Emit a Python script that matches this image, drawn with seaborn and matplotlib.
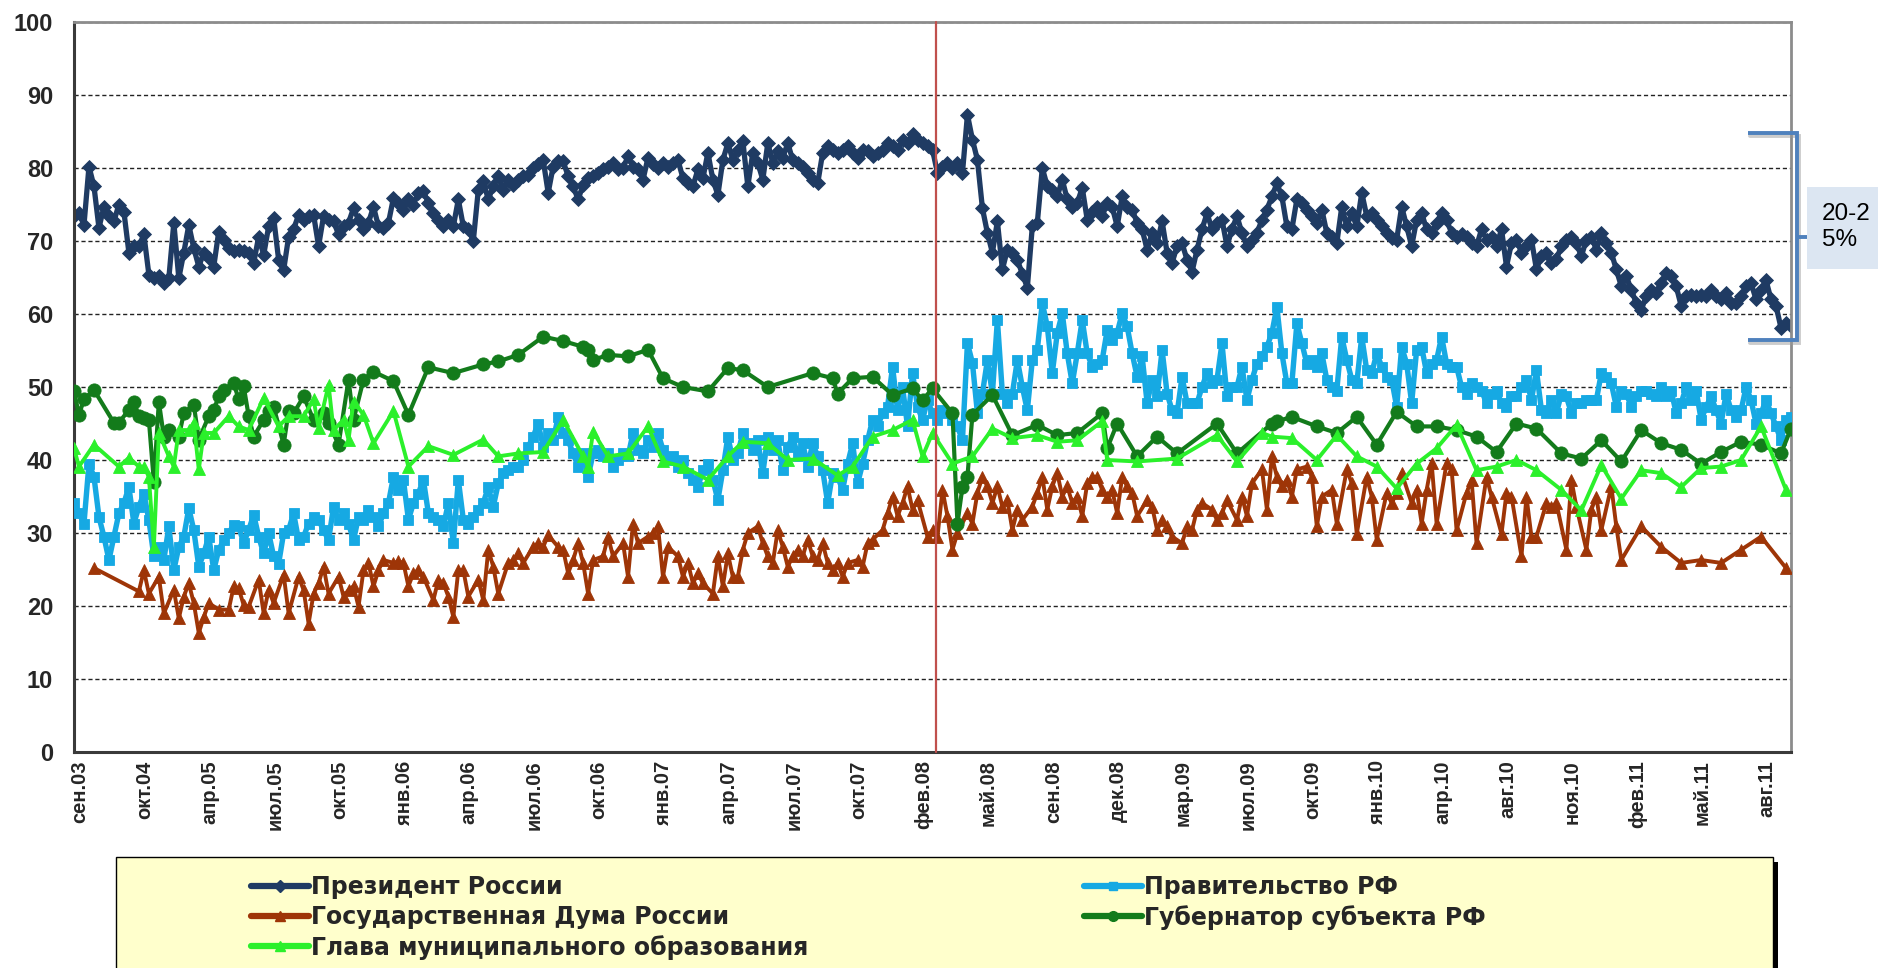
import numpy as np
import matplotlib
matplotlib.use("Agg")
import matplotlib.pyplot as plt
import matplotlib.transforms as mtransforms
from matplotlib.lines import Line2D
from matplotlib.patches import Rectangle
from matplotlib import font_manager as fm
import seaborn as sns

# ---------------- data (weekly survey categories) ----------------
tick_labels = ['сен.03', 'окт.04', 'апр.05', 'июл.05', 'окт.05', 'янв.06', 'апр.06',
               'июл.06', 'окт.06', 'янв.07', 'апр.07', 'июл.07', 'окт.07', 'фев.08',
               'май.08', 'сен.08', 'дек.08', 'мар.09', 'июл.09', 'окт.09', 'янв.10',
               'апр.10', 'авг.10', 'ноя.10', 'фев.11', 'май.11', 'авг.11']
label_every = 13          # one label per 13 categories
election_week = 172.8     # position of the vertical red marker (category units)

president = [
    73.4, 73.8, 72.2, 80.2, 77.5, 71.8, 74.7, 73.4, 72.7, 75, 74, 68.4, 69.3, 69.3, 70.9,
    65.4, 64.9, 65.2, 64.2, 64.9, 72.5, 64.9, 68.4, 72.2, 69, 66.5, 68.4, 67.7, 66.5, 71.3,
    70.2, 69, 68.6, 68.8, 68.6, 68.4, 67, 70.6, 68.1, 72, 73.2, 67.4, 66, 70.6, 71.6, 73.6,
    72.9, 73.4, 73.6, 69.3, 73.4, 72.9, 72.7, 70.9, 72, 72.5, 74.5, 72.9, 71.6, 72.5, 74.7,
    72, 71.8, 72.5, 75.9, 75.2, 74.3, 75.7, 75, 76.6, 76.8, 75.2, 73.8, 72.9, 72, 72.9, 72,
    75.7, 72, 71.6, 70, 77, 78.2, 75.7, 77.5, 78.9, 77, 78.4,
    77.7, 78.4, 78.9, 79.1, 80, 80.5, 81.1, 76.6, 80.2, 80.9, 80.9, 78.9, 77.5, 75.7, 77.7,
    78.6, 78.9, 79.3, 79.8, 80.2, 80.7, 79.8, 80, 81.6, 80.2, 79.8, 78.4, 81.4, 80.5, 80,
    80.7, 80.2, 80.7, 81.1, 78.6, 77.9, 77.5, 79.8, 78.6, 82.1, 78.4, 76.3, 81.1, 83.4, 81.1,
    82.5, 83.7, 77.5, 82.1, 80.7, 78.4, 83.4, 80.7, 82.3, 81.4, 83.4, 81.1, 80.7, 80.2, 79.3,
    78.4, 77.9, 82.1, 83, 82.5, 82.1, 82.5, 83, 82.1, 81.4, 82.5, 82.3, 81.6, 82.1, 82.5,
    83.4, 83, 82.5, 83.9, 83.4, 84.6, 83.9, 83.4, 83, 82.5,
    79.3, 80.2, 80.7, 80, 80.7, 79.3, 87.3, 83.9, 81.1, 74.5, 71.1, 68.4, 72.7, 66.1, 68.8,
    68.4, 67.4, 65.5, 63.6, 72, 72.5, 80, 77.5, 77, 76.1, 78.4, 75.7, 74.7, 75.2, 77.3, 72.9,
    74, 74.7, 73.4, 75.2, 74.7, 72, 76.1, 74.7, 74.3, 72.5, 71.6, 68.8, 71.1, 69.7, 72.7,
    68.4, 67, 69.3, 69.7, 67.4, 65.8, 68.8, 71.6, 73.8, 71.6, 72.5, 72.9, 69.3, 71.6, 73.4,
    71.1, 69.3, 70.2, 71.1, 72.9, 74.3, 76.1, 77.9, 76.1, 72, 71.6, 75.7, 75.2, 74.3, 73.4,
    72.5, 74.3, 71.1, 70.6, 69.7, 74.7, 72, 73.8, 72, 76.6, 73.4, 73.8,
    72.9, 72, 71.1, 70.4, 70.2, 74.7, 72, 69.3, 72.9, 73.8, 71.6, 71.1, 72.5, 73.8, 72.9,
    71.1, 70.6, 70.9, 70.6, 69.7, 69.3, 71.6, 70.2, 70.6, 69.3, 71.6, 66.5, 69.7, 70.2, 68.4,
    69.3, 70.2, 66.1, 67.9, 68.4, 67, 67.5, 69.3, 70.2, 70.6, 69.7, 67.9, 70.2, 70.6, 68.8,
    71.1, 69.7, 68.4, 66.1, 63.8, 65.2, 63.3, 61.5, 60.6, 62.4, 63.3, 62.9, 64.2, 65.6, 65.2,
    63.8, 61.1, 62.4, 62.6, 62.4, 62.6, 62.4, 63.3, 62.4, 62, 62.9, 61.5, 61.5, 62.4, 63.8,
    64.2, 62, 63.3, 64.6, 62, 61.1, 58.1, 58.8, 58.4]

government = [
    34.1, 32.7, 31.3, 39.5, 37.7, 32.2, 29.5, 26.3, 29.5, 32.7, 34.1, 36.3, 31.3, 33.6, 35.4,
    31.8, 26.8, 28.1, 26.3, 30.9, 24.9, 28.1, 29.5, 33.4, 30.4, 25.4, 27.2, 29.5, 24.9, 27.7,
    29, 30, 31.1, 30.9, 28.6, 30.4, 32.5, 29.5, 27.2, 30, 26.8, 25.8, 30, 30.4, 32.7, 29,
    29.5, 31.3, 32.2, 31.8, 30.4, 29, 33.6, 31.8, 32.7, 31.3, 29, 32.2, 31.8, 33.2, 32.2,
    30.9, 32.7, 34.1, 37.7, 35.9, 37.3, 31.8, 34.1, 35.4, 37.3, 32.7, 32.2, 31.8, 30.9, 34.1,
    28.6, 37.3, 31.8, 31.3, 32.2, 33.2, 34.1, 36.3, 33.6, 36.8, 38.2, 38.6,
    39.1, 39.1, 40, 41.8, 43.2, 45, 41.8, 43.7, 42.7, 45.9, 43.7, 42.7, 40.9, 39.1, 40.9,
    37.7, 40.9, 41.4, 40.5, 40.9, 39.1, 40, 40.9, 40.5, 43.7, 41.4, 40.9, 42.7, 41.8, 43.7,
    41.4, 40, 40.5, 39.1, 40, 38.2, 37.3, 36.3, 38.6, 39.5, 37.3, 34.5, 38.6, 43.2, 40,
    40.9, 43.7, 42.3, 41.4, 42.7, 38.2, 43.2, 41.4, 42.7, 38.6, 41.8, 43.2, 40.5, 42.3, 39.1,
    42.3, 40.5, 38.6, 34.1, 38.2, 37.7, 35.9, 39.5, 42.3, 36.8, 39.5, 42.7, 45.5, 44.6, 46.4,
    47.3, 52.8, 46.8, 50, 44.6, 51.9, 47.3, 45.5, 48.2, 46.4,
    45.5, 46.8, 46.4, 45.5, 44.6, 42.7, 56, 53.3, 46.4, 49.1, 53.7, 49.1, 59.2, 49.1, 47.8,
    49.1, 53.7, 50, 46.8, 53.7, 55.1, 61.5, 58.3, 51.9, 57.4, 60.1, 54.6, 50.5, 54.6, 59.2,
    54.6, 52.8, 53.2, 53.7, 57.8, 56.4, 57.4, 60.1, 58.3, 54.6, 51.4, 54.2, 47.8, 51, 48.7,
    55.1, 49.1, 46.8, 46.4, 51.4, 47.8, 47.8, 47.8, 50, 51.9, 50.5, 51, 56, 48.7, 50, 50,
    52.8, 48.2, 51, 53.2, 54.2, 55.5, 57.4, 61, 54.6, 50.5, 50.5, 58.7, 56, 53.2, 53.7, 52.8,
    54.6, 51, 50, 49.5, 56.9, 53.7, 51, 50.5, 56.9, 52.3, 51.9,
    54.6, 52.8, 51.4, 51, 47.3, 55.5, 53.2, 47.8, 55.1, 55.5, 51.9, 53.2, 53.7, 56.9, 53.2,
    52.8, 52.8, 50, 49.1, 50.5, 50, 49.5, 47.8, 49.1, 49.5, 47.8, 47.3, 48.7, 48.7, 50, 51,
    48.2, 52.3, 46.8, 46.4, 48.2, 46.4, 49.1, 48.7, 46.4, 47.8, 47.8, 48.2, 48.2, 48.2, 51.9,
    51.4, 50.5, 47.3, 49.5, 49.1, 47.3, 48.7, 49.5, 49.5, 49.1, 48.7, 50, 48.7, 49.5, 46.4,
    47.8, 50, 48.2, 49.5, 45.5, 47.3, 48.7, 46.8, 45, 49.1, 46.8, 45.9, 46.8, 50, 48.2, 45,
    46.4, 48.2, 46.4, 44.6, 42.7, 45.5, 45.9]

duma_weeks = [
    4, 13, 14, 15, 17, 18, 20, 21, 22, 23, 24, 25, 26, 27, 29, 31, 32, 33, 34, 35, 37, 38, 39,
    40, 42, 43, 45, 46, 47, 48, 49, 50, 51, 53, 54, 55, 56, 57, 58, 59, 60, 61, 62, 64, 65, 66,
    67, 68, 69, 70, 72, 73, 74, 75, 76, 77, 78, 79, 81, 82, 83, 84, 85, 87, 88, 89, 90, 92, 93,
    94, 95, 97, 98, 99, 100, 101, 102, 103, 104, 106, 107, 108, 110, 111, 112, 113, 115, 116,
    117, 118, 119, 121, 122, 123, 124, 125, 126, 128, 129, 130, 131, 132, 133, 134, 135, 137,
    138, 139, 140, 141, 142, 143, 144, 145, 146, 147, 148, 149, 150, 151, 152, 153, 154, 155,
    157, 158, 159, 160, 162, 163, 164, 165, 166, 167, 168, 169, 171, 172, 173, 174, 175, 176,
    177, 179, 180, 181, 182, 183, 184, 185, 186, 187, 188, 189, 190, 192, 193, 194, 195, 196,
    197, 198, 199, 200, 201, 202, 203, 204, 205, 206, 207, 208, 209, 210, 211, 212, 213, 215,
    216, 217, 218, 219, 220, 222, 223, 224, 225, 226, 228, 229, 230, 231, 233, 234, 235, 236,
    238, 239, 240, 241, 242, 243, 244, 245, 247, 248, 249, 250, 252, 253, 255, 256, 257, 259,
    260, 261, 263, 264, 265, 266, 268, 269, 270, 271, 272, 273, 275, 276, 277, 279, 280, 281,
    283, 284, 286, 287, 288, 290, 291, 292, 293, 295, 296, 297, 299, 300, 301, 303, 304, 305,
    306, 308, 309, 310, 314, 318, 322, 326, 330, 334, 338, 343]
duma = [
    25.2, 22, 24.9, 21.7, 24, 19, 22.2, 18.3, 21.3, 23.1, 20.4, 16.3, 18.5, 20.4, 19.5, 19.5,
    22.7, 22.4, 20.1, 19.9, 23.6, 19, 22.2, 20.4, 24.3, 19, 24, 22.2, 17.6, 21.7, 23.1, 25.4,
    21.7, 24, 21.3, 22.2, 22.7, 19.9, 24.9, 25.9, 22.7, 24.9, 26.3, 25.9, 26.1, 25.9, 22.7,
    24.5, 24.9, 24, 20.8, 23.6, 23.1, 21.3, 18.5, 24.9, 24.9, 21.3, 23.6, 20.8, 27.7, 25.4,
    21.7, 25.9, 26.3, 27.2, 25.9, 28.1, 28.6, 28.1, 29.7, 28.1, 27.7, 24.5, 26.3, 28.6, 25.9,
    21.7, 26.3, 26.8, 29.5, 26.8, 28.6, 24, 31.3, 28.6, 29.5, 30, 30.9, 24, 28.1, 26.8, 24,
    25.9, 23.1, 24.5, 23.1, 21.7, 26.8, 22.7, 27.2, 24, 24, 27.7, 30, 30.9, 28.6, 26.8, 25.9,
    30.4, 28.1, 25.4, 26.8, 27.7, 26.8, 29.1, 26.8, 26.3, 28.6, 25.9, 24.9, 25.9, 24, 25.9,
    26.3, 25.4, 28.6, 29.1, 30.4, 32.7, 35, 32.3, 34.1, 36.4, 33.2, 34.5, 29.5, 30.4, 29.5,
    35.9, 32.3, 27.7, 30, 32.7, 31.3, 35.5, 37.7, 36.4, 34.1, 36.4, 33.6, 34.5, 30.4, 33.2,
    31.8, 33.6, 35.5, 37.7, 33.2, 36.4, 38.2, 35, 36.4, 34.1, 35, 32.3, 36.8, 37.7, 37.7, 35.9,
    35, 35.9, 32.7, 37.7, 36.4, 35.5, 32.3, 34.5, 33.6, 30.4, 31.8, 30.9, 29.5, 28.6, 30.9,
    30.4, 33.2, 34.1, 33.2, 31.8, 32.7, 34.5, 31.8, 35, 32.3, 36.8, 38.7, 33.2, 40.5, 37.7,
    36.4, 37.3, 35, 38.7, 39.1, 37.7, 30.9, 35, 35.9, 31.3, 38.7, 36.8, 29.9, 37.7, 35, 29.1,
    35.5, 34.1, 35.5, 38.2, 34.1, 35.9, 31.3, 35.9, 39.6, 31.3, 39.6, 38.7, 30.4, 35.5, 37.3,
    28.6, 37.7, 35, 29.9, 35.5, 35, 26.8, 35, 29.5, 29.5, 34.1, 33.6, 34.1, 27.7, 37.3, 33.6,
    27.7, 33.2, 35, 30.4, 36.4, 30.9, 26.3, 30.9, 28.1, 25.9, 26.3, 25.9, 27.7, 29.5, 25.2]

governor_weeks = [
    0, 1, 2, 4, 8, 9, 11, 12, 13, 14, 15, 16, 17, 18, 19, 21, 22, 24, 25, 27, 28, 29, 30, 32,
    33, 34, 35, 36, 38, 39, 40, 42, 43, 44, 46, 48, 50, 51, 53, 55, 56, 58, 60, 64, 67, 71, 76,
    82, 85, 89, 94, 98, 102, 103, 104, 107, 111, 115, 118, 122, 127, 131, 134, 139, 148, 152,
    153, 156, 160, 164, 168, 170, 172, 176, 177, 178, 179, 180, 184, 188, 193, 197, 201, 206,
    207, 209, 213, 217, 221, 229, 233, 240, 241, 244, 249, 253, 257, 261, 265, 269, 273, 277,
    281, 285, 289, 293, 298, 302, 306, 310, 314, 318, 322, 326, 330, 334, 338, 342, 344]
governor = [
    49.4, 46.2, 48.3, 49.6, 45.1, 45.1, 46.9, 48, 46, 45.7, 45.5, 37, 48, 43.2, 44.1, 43.2,
    46.4, 47.6, 42.8, 46, 46.9, 48.7, 49.6, 50.5, 48.3, 50.1, 46, 43.2, 45.5, 46.7, 47.3, 42.1,
    46.7, 46.4, 48.7, 45.5, 46.4, 45.1, 42.1, 51, 45.5, 51, 52.1, 50.8, 46.2, 52.7, 51.9, 53.1,
    53.5, 54.4, 56.9, 56.3, 55.5, 55.1, 53.7, 54.4, 54.2, 55.1, 51.2, 50, 49.4, 52.6, 52.3, 50,
    51.9, 51.2, 49.1, 51.2, 51.4, 48.9, 49.8, 48.2, 49.8, 46.4, 31.3, 36.3, 37.7, 46.2, 48.9,
    43.4, 44.8, 43.4, 43.7, 46.4, 41.6, 45, 40.5, 43.2, 40.9, 45, 40.9, 45, 45.3, 45.9, 44.6,
    43.7, 45.9, 42.1, 46.6, 44.6, 44.6, 44.1, 43.2, 41.1, 45, 44.3, 40.9, 40.2, 42.7, 39.8,
    44.1, 42.3, 41.4, 39.5, 41.1, 42.5, 42.1, 40.9, 44.3]

head_weeks = [
    0, 1, 4, 9, 11, 13, 14, 15, 16, 17, 19, 20, 21, 23, 24, 25, 26, 28, 31, 33, 35, 38, 41, 43,
    46, 48, 49, 51, 52, 54, 55, 56, 58, 60, 64, 67, 71, 76, 82, 85, 89, 94, 98, 102, 103, 104,
    107, 111, 115, 118, 122, 127, 131, 134, 139, 143, 148, 153, 156, 160, 164, 168, 170, 172,
    176, 180, 184, 188, 193, 197, 201, 206, 207, 213, 221, 229, 233, 238, 240, 244, 249, 253,
    257, 261, 265, 269, 273, 277, 281, 285, 289, 293, 298, 302, 306, 310, 314, 318, 322, 326,
    330, 334, 338, 343]
head = [
    41.6, 39.1, 42.1, 39.1, 40.3, 39.1, 39.1, 37.7, 28.1, 43.7, 40.5, 39.1, 44.1, 44.1, 45.1,
    38.7, 43.7, 43.7, 46, 44.6, 44.1, 48.5, 44.6, 46, 46, 48.3, 44.4, 50.3, 44.1, 45.5, 42.8,
    48, 46.2, 42.3, 46.7, 39.1, 41.9, 40.7, 42.8, 40.5, 40.9, 41.1, 45.5, 40.5, 39.1, 43.9,
    40.5, 40.9, 44.6, 39.8, 39.1, 37.3, 40.5, 42.5, 42.3, 40, 40.2, 37.9, 39.1, 43.2, 44.1,
    45.5, 40.5, 43.7, 39.5, 40.5, 44.3, 43, 43.4, 42.5, 42.7, 45.3, 40, 39.8, 40.2, 43.4, 39.8,
    43.7, 43.2, 43, 40, 43.4, 40.5, 39.1, 36.1, 39.5, 41.6, 44.8, 38.6, 39.1, 40, 38.6, 35.9,
    33.1, 39.3, 34.7, 38.6, 38.2, 36.3, 38.9, 39.1, 40, 44.6, 35.9]

names_ru = ['Президент России', 'Правительство РФ', 'Государственная Дума России',
            'Губернатор субъекта РФ', 'Глава муниципального образования']
annotation_text = '20-2\n5%'

# ---------------- style ----------------
sns.set_style("white")
installed = {f.name for f in fm.fontManager.ttflist}
NARROW = 'Liberation Sans Narrow' if 'Liberation Sans Narrow' in installed else 'Liberation Sans'
plt.rcParams['font.family'] = ['Liberation Sans', 'DejaVu Sans']

C_PRES, C_GOV, C_DUMA, C_GOVR, C_HEAD = '#1F3B63', '#16A9E3', '#9E3507', '#137B1B', '#2BF02B'

W, H = 1878, 968
fig = plt.figure(figsize=(W / 100, H / 100), dpi=100)
fig.patch.set_facecolor('white')


def fx(px):
    return px / W


def fy(py):
    return 1 - py / H


L, R, T, B = 74, 1791, 22, 752
ax = fig.add_axes([fx(L), fy(B), (R - L) / W, (B - T) / H])
ax.set_facecolor('white')

weeks_p = np.arange(len(president))
weeks_g = np.arange(len(government))

series = [
    (weeks_p, president, C_PRES, 'D', 7.5, 3.8, 2),
    (weeks_g, government, C_GOV, 's', 6.5, 3.9, 3),
    (np.array(duma_weeks), duma, C_DUMA, '^', 8.5, 2.8, 4),
    (np.array(governor_weeks), governor, C_GOVR, 'o', 9.5, 3.0, 5),
    (np.array(head_weeks), head, C_HEAD, '^', 8.5, 2.8, 6),
]
for x, y, color, marker, ms, lw, z in series:
    sns.lineplot(x=x, y=y, ax=ax, color=color, marker=marker, markersize=ms,
                 linewidth=lw, markeredgecolor=color, markeredgewidth=0.6,
                 zorder=z, legend=False, sort=False, errorbar=None)

ax.set_xlim(0, len(president) - 1)
ax.set_ylim(0, 100)
ax.set_yticks(range(0, 101, 10))
ax.yaxis.grid(True, linestyle=(0, (3, 2)), color='#222222', linewidth=1.0)
ax.xaxis.grid(False)
ax.set_axisbelow(True)
ax.set_xlabel('')
ax.set_ylabel('')

for side in ['left', 'bottom']:
    ax.spines[side].set_color('#3a3a3a')
    ax.spines[side].set_linewidth(2.2)
for side in ['top', 'right']:
    ax.spines[side].set_color('#8c8c8c')
    ax.spines[side].set_linewidth(2.0)

ax.tick_params(axis='y', length=6, width=1.5, color='#3a3a3a', pad=9, labelsize=17)
for lbl in ax.get_yticklabels():
    lbl.set_fontweight('bold')
    lbl.set_fontfamily([NARROW, 'DejaVu Sans'])

tick_pos = [label_every * k for k in range(len(tick_labels))]
ax.set_xticks(tick_pos)
ax.set_xticklabels(tick_labels, rotation=90, fontsize=14.5, fontweight='bold',
                   va='top', ha='center')
ax.tick_params(axis='x', length=0, pad=6)
offset = mtransforms.ScaledTranslation(6 / 100, 0, fig.dpi_scale_trans)
for lbl in ax.get_xticklabels():
    lbl.set_transform(lbl.get_transform() + offset)

# election marker
ax.axvline(election_week, color='#C0504D', linewidth=1.6, zorder=7, clip_on=False)

# ---------------- legend box ----------------
fig.add_artist(Rectangle((fx(121), fy(H + 30)), fx(1778) - fx(121), fy(862) - fy(H + 30),
                         transform=fig.transFigure, facecolor='black', edgecolor='none', zorder=1))
fig.add_artist(Rectangle((fx(116), fy(H + 30)), fx(1773) - fx(116), fy(857) - fy(H + 30),
                         transform=fig.transFigure, facecolor='#FFFFCC', edgecolor='black',
                         linewidth=1.0, zorder=1.1))

handles = [
    Line2D([], [], color=C_PRES, lw=4.5, marker='D', ms=6.5, mec=C_PRES),
    Line2D([], [], color=C_GOV, lw=4.5, marker='s', ms=5.5, mec=C_GOV),
    Line2D([], [], color=C_DUMA, lw=4.5, marker='^', ms=7.5, mec=C_DUMA),
    Line2D([], [], color=C_GOVR, lw=4.5, marker='o', ms=7, mec=C_GOVR),
    Line2D([], [], color=C_HEAD, lw=4.5, marker='^', ms=7.5, mec=C_HEAD),
]
leg_kw = dict(loc='upper left', frameon=False, borderpad=0, borderaxespad=0,
              handlelength=2.45, handletextpad=0.1, labelspacing=0.25,
              prop=dict(family=['DejaVu Sans'], weight='bold', size=17))
leg1 = fig.legend([handles[0], handles[2], handles[4]], [names_ru[0], names_ru[2], names_ru[4]],
                  bbox_to_anchor=(fx(251), fy(875)), **leg_kw)
leg2 = fig.legend([handles[1], handles[3]], [names_ru[1], names_ru[3]],
                  bbox_to_anchor=(fx(1084), fy(875)), **leg_kw)
leg1.set_zorder(5)
leg2.set_zorder(5)

# ---------------- bracket annotation ----------------
bx = [1748, 1797, 1797, 1748]
by = [133, 133, 340, 340]
fig.add_artist(Line2D([fx(v + 2) for v in bx], [fy(v + 3) for v in by], color='#9a9a9a',
                      alpha=0.5, lw=2.8, solid_joinstyle='miter', zorder=3))
fig.add_artist(Line2D([fx(v) for v in bx], [fy(v) for v in by], color='#4F81BD',
                      lw=2.8, solid_joinstyle='miter', solid_capstyle='butt', zorder=4))
fig.add_artist(Line2D([fx(1797), fx(1807)], [fy(237), fy(237)], color='#4F81BD',
                      lw=2.8, solid_capstyle='butt', zorder=4))
fig.add_artist(Rectangle((fx(1807), fy(269)), fx(1900) - fx(1807), fy(187) - fy(269),
                         transform=fig.transFigure, facecolor='#DCE6F2', edgecolor='none',
                         zorder=3))
fig.text(fx(1822), fy(227), annotation_text, fontsize=17.5, ha='left', va='center',
         linespacing=1.25, family=['Liberation Sans', 'DejaVu Sans'], color='black', zorder=5)

fig.savefig('out.png', dpi=100, facecolor='white')
